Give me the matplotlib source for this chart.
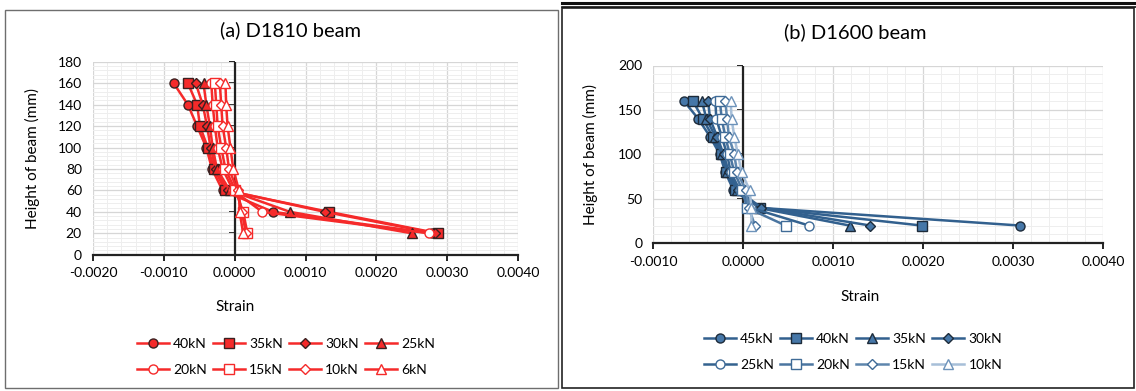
import numpy as np
import matplotlib.pyplot as plt
from matplotlib.ticker import MultipleLocator, FormatStrFormatter
from matplotlib.patches import Rectangle
from matplotlib.lines import Line2D

plt.rcParams['font.family'] = ['Lato', 'DejaVu Sans']

# heights of the gauges (mm)
height = [160, 140, 120, 100, 80, 60, 40, 20]

# (a) D1810 beam
labels_a = ['40kN', '35kN', '30kN', '25kN', '20kN', '15kN', '10kN', '6kN']
a_40 = [-0.00086, -0.00066, -0.00053, -0.00040, -0.00032, -0.00017, 0.00054, 0.00278]
a_35 = [-0.00066, -0.00053, -0.00049, -0.00038, -0.00029, -0.00013, 0.00133, 0.00287]
a_30 = [-0.00055, -0.00045, -0.00039, -0.00034, -0.00027, -0.00010, 0.00127, 0.00283]
a_25 = [-0.00044, -0.00040, -0.00035, -0.00031, -0.00025, -0.00007, 0.00078, 0.00250]
a_20 = [-0.00033, -0.00031, -0.00028, -0.00024, -0.00017, -0.00002, 0.00039, 0.00274]
a_15 = [-0.00028, -0.00026, -0.00024, -0.00019, -0.00013, 0.00001, 0.00012, 0.00018]
a_10 = [-0.00021, -0.00019, -0.00017, -0.00012, -0.00008, 0.00004, 0.00010, 0.00016]
a_6 = [-0.00013, -0.00012, -0.00010, -0.00006, -0.00002, 0.00006, 0.00007, 0.00012]

# (b) D1600 beam
labels_b = ['45kN', '40kN', '35kN', '30kN', '25kN', '20kN', '15kN', '10kN']
b_45 = [-0.00066, -0.00050, -0.00037, -0.00026, -0.00020, -0.00011, 0.00017, 0.00307]
b_40 = [-0.00056, -0.00045, -0.00034, -0.00025, -0.00019, -0.00009, 0.00018, 0.00198]
b_35 = [-0.00046, -0.00041, -0.00031, -0.00024, -0.00018, -0.00007, 0.00016, 0.00118]
b_30 = [-0.00039, -0.00037, -0.00029, -0.00022, -0.00016, -0.00006, 0.00020, 0.00141]
b_25 = [-0.00031, -0.00030, -0.00024, -0.00018, -0.00014, -0.00004, 0.00008, 0.00073]
b_20 = [-0.00026, -0.00024, -0.00020, -0.00015, -0.00010, -0.00001, 0.00004, 0.00047]
b_15 = [-0.00020, -0.00018, -0.00016, -0.00010, -0.00007, 0.00003, 0.00006, 0.00013]
b_10 = [-0.00014, -0.00013, -0.00010, -0.00006, -0.00002, 0.00007, 0.00009, 0.00009]

markers_a = ['o', 's', 'D', '^', 'o', 's', 'D', '^']
markers_b = ['o', 's', '^', 'D', 'o', 's', 'D', '^']
filled = [True, True, True, True, False, False, False, False]

red = '#f52a2a'
blue_lines = ['#32608e', '#32608e', '#32608e', '#32608e', '#34628f', '#4a75a0', '#5e86ad', '#a7bfd8']
blue_fill = '#4677a8'

fig = plt.figure(figsize=(11.36, 3.91), dpi=100)

# panel frames
fig.patches.append(Rectangle((5 / 1136, 1 - 388 / 391), 553 / 1136, 378 / 391,
                             transform=fig.transFigure, fill=False, ec='#6e6e6e', lw=1.0))
fig.patches.append(Rectangle((562 / 1136, 1 - 388 / 391), 572 / 1136, 380 / 391,
                             transform=fig.transFigure, fill=False, ec='#222222', lw=1.2))
fig.lines.append(Line2D([562 / 1136, 1], [1 - 3 / 391, 1 - 3 / 391], transform=fig.transFigure,
                        color='#111111', lw=2.2))
fig.lines.append(Line2D([562 / 1136, 1], [1 - 7 / 391, 1 - 7 / 391], transform=fig.transFigure,
                        color='#111111', lw=1.2))


def msize(m):
    return 4.8 if m == 'D' else 6.5


def style_axes(ax, xlim, ylim, ymaj, ymin, y0frac):
    ax.set_xlim(*xlim)
    ax.set_ylim(*ylim)
    ax.xaxis.set_major_locator(MultipleLocator(0.001))
    ax.xaxis.set_minor_locator(MultipleLocator(0.0002))
    ax.yaxis.set_major_locator(MultipleLocator(ymaj))
    ax.yaxis.set_minor_locator(MultipleLocator(ymin))
    ax.xaxis.set_major_formatter(FormatStrFormatter('%.4f'))
    ax.grid(True, which='major', color='#d6d6d6', lw=0.9)
    ax.grid(True, which='minor', color='#eeeeee', lw=0.7)
    ax.set_axisbelow(True)
    for s in ['top', 'right', 'left']:
        ax.spines[s].set_visible(False)
    ax.spines['bottom'].set_color('#222222')
    ax.spines['bottom'].set_linewidth(1.6)
    ax.tick_params(axis='x', which='major', direction='out', length=4, width=1.4,
                   labelsize=10, color='#222222', pad=5)
    ax.tick_params(axis='y', which='major', length=0, labelsize=10, pad=8)
    ax.tick_params(which='minor', length=0)
    # vertical axis drawn at zero strain
    ax.axvline(0, color='#222222', lw=1.6, zorder=1.5)
    sec = ax.secondary_yaxis(y0frac)
    sec.yaxis.set_major_locator(MultipleLocator(ymaj))
    sec.yaxis.set_minor_locator(MultipleLocator(ymin))
    sec.spines['left'].set_visible(False)
    sec.tick_params(axis='y', which='major', direction='out', length=4, width=1.4,
                    labelleft=False, color='#222222')
    sec.tick_params(which='minor', length=0)


order = [0, 4, 1, 5, 2, 6, 3, 7]
leg_kw = dict(ncol=4, loc='center', frameon=False, fontsize=10, handlelength=2.3,
              handletextpad=0.3, columnspacing=0.45, labelspacing=1.0)

# ----- (a) D1810 beam -----
ax1 = fig.add_axes([93 / 1136, 1 - 254.7 / 391, 425 / 1136, 192.8 / 391])
style_axes(ax1, (-0.002, 0.004), (0, 180), 20, 4, 1 / 3)
series_a = [a_40, a_35, a_30, a_25, a_20, a_15, a_10, a_6]
handles_a = []
for i, vals in enumerate(series_a):
    fc = red if filled[i] else 'white'
    ec = '#3a2020' if filled[i] else red
    h, = ax1.plot(vals, height, color=red, lw=1.8, marker=markers_a[i], ms=msize(markers_a[i]),
                  mfc=fc, mec=ec, mew=1.0, label=labels_a[i], clip_on=False, zorder=3)
    handles_a.append(h)
ax1.set_xlabel('Strain', fontsize=11)
ax1.xaxis.set_label_coords(0.334, -0.235)
ax1.set_ylabel('Height of beam (mm)', fontsize=11)
ax1.yaxis.set_label_coords(-0.125, 0.5)
fig.text(290 / 1136, 1 - 30 / 391, '(a) D1810 beam', ha='center', va='center', fontsize=14.5)

fig.legend([handles_a[k] for k in order], [labels_a[k] for k in order],
           bbox_to_anchor=(286 / 1136, 1 - 357 / 391), **leg_kw)

# ----- (b) D1600 beam -----
ax2 = fig.add_axes([653.3 / 1136, 1 - 243.3 / 391, 450 / 1136, 177.8 / 391])
style_axes(ax2, (-0.001, 0.004), (0, 200), 50, 10, 0.2)
series_b = [b_45, b_40, b_35, b_30, b_25, b_20, b_15, b_10]
handles_b = []
for i, vals in enumerate(series_b):
    fc = blue_fill if filled[i] else 'white'
    if filled[i]:
        ec = '#1d2b3a'
    elif i < 7:
        ec = '#3f6b97'
    else:
        ec = '#6d93ba'
    h, = ax2.plot(vals, height, color=blue_lines[i], lw=1.8, marker=markers_b[i],
                  ms=msize(markers_b[i]), mfc=fc, mec=ec, mew=1.0, label=labels_b[i],
                  clip_on=False, zorder=3)
    handles_b.append(h)
ax2.set_xlabel('Strain', fontsize=11)
ax2.xaxis.set_label_coords(0.46, -0.264)
ax2.set_ylabel('Height of beam (mm)', fontsize=11)
ax2.yaxis.set_label_coords(-0.122, 0.5)
fig.text(855 / 1136, 1 - 32 / 391, '(b) D1600 beam', ha='center', va='center', fontsize=14.5)

fig.legend([handles_b[k] for k in order], [labels_b[k] for k in order],
           bbox_to_anchor=(853 / 1136, 1 - 352 / 391), **leg_kw)

fig.savefig('out.png', dpi=100)
